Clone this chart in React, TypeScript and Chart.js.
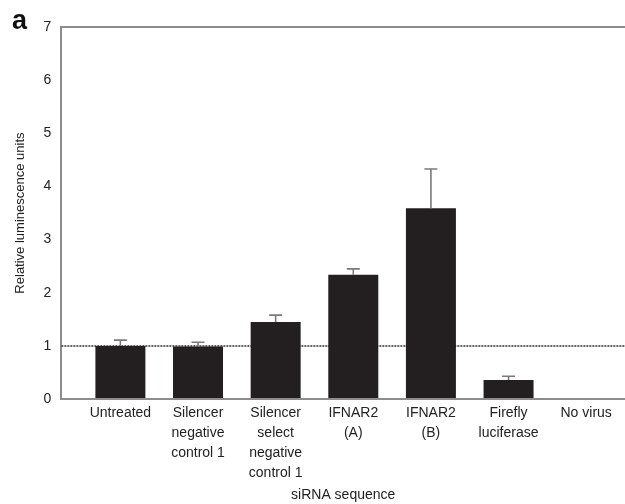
import React, { useEffect, useRef } from "react";
import { Chart, registerables } from "chart.js";

Chart.register(...registerables);

const categories: string[][] = [
  ["Untreated"],
  ["Silencer", "negative", "control 1"],
  ["Silencer", "select", "negative", "control 1"],
  ["IFNAR2", "(A)"],
  ["IFNAR2", "(B)"],
  ["Firefly", "luciferase"],
  ["No virus"],
];
const means: number[] = [1.0, 0.99, 1.45, 2.34, 3.59, 0.36, 0];
const errorTops: number[] = [1.11, 1.07, 1.58, 2.45, 4.33, 0.43, 0];
const yTicks: number[] = [0, 1, 2, 3, 4, 5, 6, 7];
const referenceLevel = 1;

const FONT = "'Liberation Sans', Arial, Helvetica, sans-serif";
const AXIS_GRAY = "#8c8c8c";

const overlayPlugin = {
  id: "overlay",
  beforeDatasetsDraw(chart: any) {
    const { ctx, chartArea, scales } = chart;
    const y = scales.y.getPixelForValue(referenceLevel);
    ctx.save();
    ctx.strokeStyle = "#333";
    ctx.lineWidth = 1.6;
    ctx.setLineDash([2, 1]);
    ctx.beginPath();
    ctx.moveTo(chartArea.left, y);
    ctx.lineTo(chartArea.right, y);
    ctx.stroke();
    ctx.restore();
  },
  afterDatasetsDraw(chart: any) {
    const { ctx, scales } = chart;
    const meta = chart.getDatasetMeta(0);
    ctx.save();
    ctx.strokeStyle = "#7a7a7a";
    ctx.lineWidth = 1.6;
    meta.data.forEach((bar: any, i: number) => {
      if (errorTops[i] <= means[i]) return;
      const x = bar.x;
      const yTop = scales.y.getPixelForValue(errorTops[i]);
      const yBase = scales.y.getPixelForValue(means[i]);
      ctx.beginPath();
      ctx.moveTo(x, yBase);
      ctx.lineTo(x, yTop);
      ctx.moveTo(x - 6.5, yTop);
      ctx.lineTo(x + 6.5, yTop);
      ctx.stroke();
    });
    ctx.restore();
  },
};

export default function App() {
  const canvasRef = useRef<HTMLCanvasElement | null>(null);

  useEffect(() => {
    if (!canvasRef.current) return;
    const chart = new Chart(canvasRef.current, {
      type: "bar",
      data: {
        datasets: [
          {
            data: means.map((v, i) => ({ x: i, y: v })),
            backgroundColor: "#231f20",
            borderWidth: 0,
            barPercentage: 0.644,
            categoryPercentage: 1,
          },
        ],
      },
      options: {
        animation: false,
        responsive: true,
        maintainAspectRatio: false,
        layout: { padding: { top: 27, left: 13, right: 0, bottom: 0 } },
        plugins: {
          legend: { display: false },
          tooltip: { enabled: false },
        },
        scales: {
          x: {
            type: "linear",
            min: -0.76,
            max: 6.5,
            offset: false,
            afterBuildTicks: (axis: any) => {
              axis.ticks = categories.map((_, i) => ({ value: i }));
            },
            grid: { display: false, drawTicks: false, offset: false },
            border: { display: true, color: AXIS_GRAY, width: 2 },
            ticks: {
              autoSkip: false,
              maxRotation: 0,
              padding: 4,
              color: "#222",
              font: { family: FONT, size: 14, lineHeight: 1.43 },
              callback: (value: any) => categories[Math.round(Number(value))] ?? "",
            },
            title: {
              display: true,
              text: "siRNA sequence",
              color: "#222",
              font: { family: FONT, size: 14 },
              padding: { top: 0, bottom: 0 },
            },
          },
          y: {
            min: 0,
            max: 7,
            afterBuildTicks: (axis: any) => {
              axis.ticks = yTicks.map((v) => ({ value: v }));
            },
            grid: {
              drawTicks: false,
              color: (c: any) => (c.tick && c.tick.value === 7 ? AXIS_GRAY : "rgba(0,0,0,0)"),
              lineWidth: 2,
            },
            border: { display: true, color: AXIS_GRAY, width: 2 },
            ticks: {
              padding: 10,
              color: "#222",
              font: { family: FONT, size: 14 },
            },
            title: {
              display: true,
              text: "Relative luminescence units",
              color: "#222",
              font: { family: FONT, size: 13 },
              padding: { top: 0, bottom: 5 },
            },
          },
        },
      },
      plugins: [overlayPlugin],
    } as any);
    return () => chart.destroy();
  }, []);

  return (
    <div style={{ position: "fixed", left: 0, top: 0, width: 625, height: 504, background: "#fff" }}>
      <div
        style={{
          position: "absolute",
          left: 12,
          top: 5,
          fontFamily: FONT,
          fontWeight: "bold",
          fontSize: 27,
          color: "#111",
        }}
      >
        a
      </div>
      <canvas ref={canvasRef} />
    </div>
  );
}
